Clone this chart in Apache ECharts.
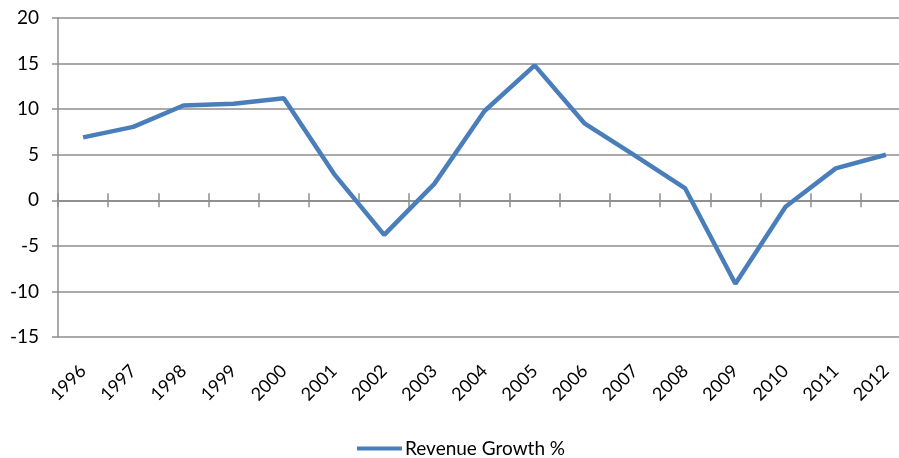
<!DOCTYPE html>
<html>
<head>
<meta charset="utf-8">
<script src="https://cdn.jsdelivr.net/npm/echarts@6/dist/echarts.min.js"></script>
<style>
  html, body { margin: 0; padding: 0; background: #fff; }
  #chart { width: 899px; height: 458px; }
</style>
</head>
<body>
<div id="chart"></div>
<script>
const years = ['1996', '1997', '1998', '1999', '2000', '2001', '2002', '2003', '2004',
  '2005', '2006', '2007', '2008', '2009', '2010', '2011', '2012']
const revenueGrowth = [6.9, 8.05, 10.4, 10.6, 11.2, 2.9, -3.8, 1.8, 9.8,
  14.8, 8.4, 4.9, 1.3, -9.15, -0.7, 3.5, 5.0]
const yTicks = { min: -15, max: 20, interval: 5 }

const gray = '#8e8e8e'
const font = 'Lato, "Liberation Sans", sans-serif'

const chart = echarts.init(document.getElementById('chart'))

// plot runs a bit past the right edge, like the original
const plotBox = { left: 58, top: 18, width: 853, height: 319, outerBoundsMode: 'none' }

// the zero line carries ticks on both sides; second grid holds the upward ticks
const zeroAxis = (gridIndex, position) => ({
  type: 'category',
  gridIndex,
  data: years,
  position,
  axisLine: { show: true, onZero: true, lineStyle: { color: gray, width: 1.5 } },
  axisTick: { show: true, length: 7, lineStyle: { color: gray, width: 1.5 } },
  axisLabel: { show: false },
  splitLine: { show: false },
})

chart.setOption({
  animation: false,
  grid: [plotBox, plotBox],
  legend: {
    left: 352,
    top: 434,
    icon: 'rect',
    itemWidth: 45,
    itemHeight: 4,
    textStyle: { fontFamily: font, fontSize: 19, color: '#000', padding: [0, 0, 0, -2] },
    data: ['Revenue Growth %'],
  },
  xAxis: [
    {
      type: 'category',
      gridIndex: 0,
      data: years,
      position: 'bottom',
      axisLine: { show: false, onZero: false },
      axisTick: { show: false },
      axisLabel: {
        rotate: 45,
        margin: 31,
        interval: 0,
        fontFamily: font,
        fontSize: 18,
        color: '#000',
      },
    },
    zeroAxis(0, 'bottom'),
    zeroAxis(1, 'top'),
  ],
  yAxis: [
    {
      type: 'value',
      gridIndex: 0,
      min: yTicks.min,
      max: yTicks.max,
      interval: yTicks.interval,
      axisLine: { show: true, lineStyle: { color: gray, width: 1.5 } },
      axisTick: { show: true, length: 6, lineStyle: { color: gray, width: 1.5 } },
      axisLabel: { margin: 19, fontFamily: font, fontSize: 19, color: '#000' },
      splitLine: { lineStyle: { color: gray, width: 1.5 } },
    },
    {
      type: 'value',
      gridIndex: 1,
      min: yTicks.min,
      max: yTicks.max,
      interval: yTicks.interval,
      show: false,
    },
  ],
  series: [
    {
      name: 'Revenue Growth %',
      type: 'line',
      xAxisIndex: 0,
      yAxisIndex: 0,
      data: revenueGrowth,
      symbol: 'none',
      lineStyle: { color: '#4a7ebb', width: 4.5 },
      itemStyle: { color: '#4a7ebb' },
    },
  ],
})
</script>
</body>
</html>
